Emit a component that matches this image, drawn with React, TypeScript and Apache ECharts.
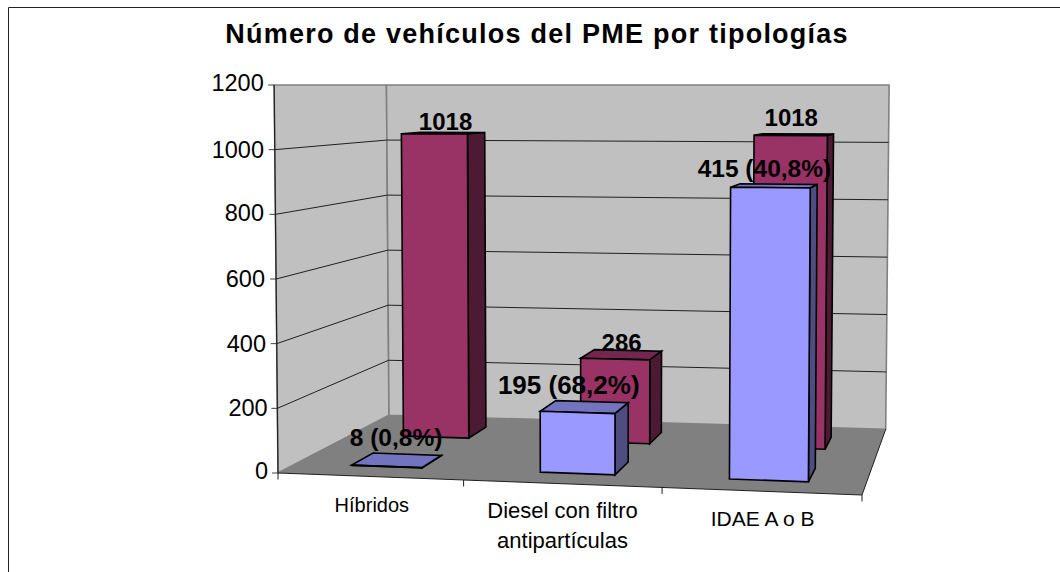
import React, { useEffect, useRef } from "react";
import * as echarts from "echarts";

const categories = ["Híbridos", "Diesel con filtro\nantipartículas", "IDAE A o B"];
const totalValues = [1018, 286, 1018];
const pmeValues = [8, 195, 879];
const pmeLabels = ["8 (0,8%)", "195 (68,2%)", "415 (40,8%)"];
const yTicks = [0, 200, 400, 600, 800, 1000, 1200];
const titleText = "Número de vehículos del PME por tipologías";

const FONT = "Liberation Sans";
const GRID = { left: 278, top: 85, width: 584, height: 388 };
// Screen corners of the floor: front-left, front-right, back-left, back-right
const FL = [278, 473], FR = [862, 495], BL = [389, 415.3], BR = [885.7, 429.3];

const dx1 = FR[0] - BR[0], dy1 = FR[1] - BR[1], dx2 = BL[0] - BR[0], dy2 = BL[1] - BR[1];
const sx = FL[0] - FR[0] + BR[0] - BL[0], sy = FL[1] - FR[1] + BR[1] - BL[1];
const det = dx1 * dy2 - dx2 * dy1;
const hg = (sx * dy2 - dx2 * sy) / det, hh = (dx1 * sy - dy1 * sx) / det;
const ha = FR[0] - FL[0] + hg * FR[0], hb = BL[0] - FL[0] + hh * BL[0];
const hd = FR[1] - FL[1] + hg * FR[1], he = BL[1] - FL[1] + hh * BL[1];

// s: 0..1 along the categories, t: 0..1 into the depth, r: 0..1 of the value axis
function project(s: number, t: number, r: number, top: number): number[] {
  const w = hg * s + hh * t + 1;
  const fx = (ha * s + hb * t + FL[0]) / w;
  const fy = (hd * s + he * t + FL[1]) / w;
  return [fx + r * (fx - 600) * 0.012, fy + r * (top - fy)];
}
const barRatio = (r: number) => Math.max(0, r + 0.026 * r * r - 0.006);

const TICK_S = [0, 0.337, 0.677, 1];
const BAR_HALF = 0.0655;
const poly = (points: number[][], fill: string, stroke: string, lineWidth = 1.6) => ({
  type: "polygon",
  shape: { points },
  style: { fill, stroke, lineWidth, lineJoin: "miter" },
});
const line = (points: number[][], stroke: string, lineWidth = 1) => ({
  type: "polyline",
  shape: { points },
  style: { fill: "none", stroke, lineWidth },
});

function renderFrame(params: any) {
  const top = params.coordSys.y;
  const P = (s: number, t: number, r: number) => project(s, t, r, top);
  const children: any[] = [
    poly([P(0, 0, 0), P(0, 1, 0), P(0, 1, 1), P(0, 0, 1)], "#c0c0c0", "#808080"),
    poly([P(0, 1, 0), P(1, 1, 0), P(1, 1, 1), P(0, 1, 1)], "#c0c0c0", "#808080"),
    poly([P(0, 0, 0), P(1, 0, 0), P(1, 1, 0), P(0, 1, 0)], "#808080", "none", 0),
    line([P(0, 0, 0), P(1, 0, 0), P(1, 1, 0)], "#202020"),
  ];
  TICK_S.forEach((s) => {
    const p = P(s, 0, 0);
    children.push(line([p, [p[0], p[1] + 6.5]], "#202020"));
  });
  return { type: "group", children };
}

function renderGridline(params: any, api: any) {
  const cs = params.coordSys;
  const c = api.coord([0, api.value(1)]);
  const r = (cs.y + cs.height - c[1]) / cs.height;
  const P = (s: number, t: number) => project(s, t, r, cs.y);
  const f = P(0, 0);
  const tick = line([[f[0] - 6, f[1]], f], "#404040");
  if (r <= 0 || r >= 1) return { type: "group", children: [tick] };
  return { type: "group", children: [tick, line([f, P(0, 1), P(1, 1)], "#202020")] };
}

function renderAxisEdge(params: any) {
  const top = params.coordSys.y;
  return line([project(0, 0, 1, top), project(0, 0, 0, top)], "#202020", 1.2);
}

function makeBars(
  t0: number, t1: number,
  colors: { front: string; side: string; top: string },
  texts: (i: number) => string,
  shifts: number[],
  offsets: number[][],
  fontSizes: number[],
) {
  return (params: any, api: any) => {
    const cs = params.coordSys;
    const i = api.value(0);
    const c = api.coord([i, api.value(1)]);
    const s = (c[0] - cs.x) / cs.width + shifts[i];
    const r = barRatio((cs.y + cs.height - c[1]) / cs.height);
    const s0 = s - BAR_HALF, s1 = s + BAR_HALF;
    const P = (a: number, b: number, h: number) => project(a, b, h, cs.y);
    const anchor = P(s, (t0 + t1) / 2, r);
    return {
      type: "group",
      children: [
        poly([P(s0, t0, r), P(s1, t0, r), P(s1, t1, r), P(s0, t1, r)], colors.top, "#000"),
        poly([P(s1, t0, 0), P(s1, t1, 0), P(s1, t1, r), P(s1, t0, r)], colors.side, "#000"),
        poly([P(s0, t0, 0), P(s1, t0, 0), P(s1, t0, r), P(s0, t0, r)], colors.front, "#000"),
        {
          type: "text",
          x: anchor[0] + offsets[i][0],
          y: anchor[1] + offsets[i][1],
          style: {
            text: texts(i),
            fontFamily: FONT,
            fontWeight: "bold",
            fontSize: fontSizes[i],
            fill: "#000",
            align: "center",
            verticalAlign: "middle",
          },
        },
      ],
    };
  };
}

const Y_PAD: Record<number, number[]> = {
  0: [0, 0, 3.4, 0], 200: [0, 0.3, 0, 0], 400: [0, 2, 0, 0], 600: [0, 3, 0, 0],
  800: [0, 4, 2.6, 0], 1000: [0, 4, 0, 0], 1200: [0, 4.3, 4, 0],
};
const X_LABEL_STYLE = [
  { fontSize: 20, padding: [0, 7, 0, 0] },
  { fontSize: 22, padding: [6, 15, 0, 0] },
  { fontSize: 21, padding: [14, 4, 0, 0] },
];

export default function App() {
  const ref = useRef<HTMLDivElement>(null);
  useEffect(() => {
    document.body.style.margin = "0";
    const chart = echarts.init(ref.current!, null, { renderer: "svg" });
    const rich: any = {};
    yTicks.forEach((v) => {
      rich["t" + v] = { fontFamily: FONT, fontSize: 23.5, color: "#000", padding: Y_PAD[v] };
    });
    const base = { type: "custom", coordinateSystem: "cartesian2d", clip: false, silent: true };
    chart.setOption({
      animation: false,
      backgroundColor: "#fff",
      title: {
        text: titleText,
        left: 532,
        top: 15,
        textAlign: "center",
        textStyle: { fontFamily: FONT, fontWeight: "bold", fontSize: 27, color: "#000" },
      },
      grid: GRID,
      xAxis: {
        type: "category",
        data: categories.map((value, i) => ({ value, textStyle: X_LABEL_STYLE[i] })),
        axisLine: { show: false },
        axisTick: { show: false },
        axisLabel: {
          interval: 0,
          margin: 17,
          fontFamily: FONT,
          fontSize: 20,
          color: "#000",
          lineHeight: 29.6,
        },
      },
      yAxis: {
        type: "value",
        min: 0,
        max: 1200,
        interval: 200,
        splitLine: { show: false },
        axisLine: { show: false },
        axisTick: { show: false },
        axisLabel: {
          margin: 10,
          formatter: (v: number) => `{t${v}|${v}}`,
          rich,
        },
      },
      graphic: [
        {
          type: "polyline",
          shape: { points: [[8.5, 572], [8.5, 7.5], [1060, 7.5]] },
          style: { fill: "none", stroke: "#222", lineWidth: 1 },
          silent: true,
        },
      ],
      series: [
        { ...base, name: "frame", data: [[0, 0]], renderItem: renderFrame, z: 1 },
        { ...base, name: "grid", data: yTicks.map((v) => [0, v]), renderItem: renderGridline, z: 2 },
        { ...base, name: "edge", data: [[0, 0]], renderItem: renderAxisEdge, z: 3 },
        {
          ...base,
          name: "Total",
          z: 4,
          data: totalValues.map((v, i) => [i, v]),
          renderItem: makeBars(
            0.63, 0.83,
            { front: "#993366", side: "#4d1a33", top: "#732650" },
            (i) => String(totalValues[i]),
            [0.0035, 0.0195, 0.0075],
            [[2, -12], [0, -12], [-3, -17]],
            [24, 24, 24],
          ),
        },
        {
          ...base,
          name: "PME",
          z: 5,
          data: pmeValues.map((v, i) => [i, v]),
          renderItem: makeBars(
            0.145, 0.335,
            { front: "#9999ff", side: "#4d4d80", top: "#7373bf" },
            (i) => pmeLabels[i],
            [0.0035, 0.0145, 0.0075],
            [[-1, -23], [-16, -22], [-10, -17]],
            [24.5, 26, 24.5],
          ),
        },
      ],
    });
    // The reference title is letter-spaced, which the text style has no option for.
    ref.current!.querySelectorAll("text").forEach((t) => {
      if (t.textContent === titleText) t.setAttribute("letter-spacing", "1.24");
    });
    return () => chart.dispose();
  }, []);
  return <div ref={ref} style={{ position: "absolute", left: 0, top: 0, width: 1060, height: 572 }} />;
}
